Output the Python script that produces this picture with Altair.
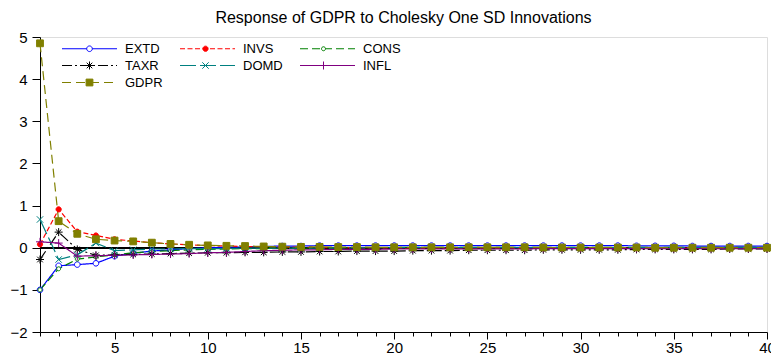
import altair as alt
import pandas as pd

periods = list(range(1, 41))
names = ["EXTD", "INVS", "CONS", "TAXR", "DOMD", "INFL", "GDPR"]

extd = [-1.00, -0.43, -0.40, -0.37, -0.20, -0.13, -0.08, -0.05, -0.02, 0.00,
        0.01, 0.02, 0.03, 0.04, 0.04, 0.05, 0.05, 0.05, 0.05, 0.05,
        0.05, 0.05, 0.05, 0.05, 0.05, 0.05, 0.05, 0.05, 0.05, 0.05,
        0.05, 0.05, 0.045, 0.045, 0.045, 0.04, 0.04, 0.04, 0.04, 0.04]
invs = [0.08, 0.91, 0.38, 0.29, 0.20, 0.16, 0.12, 0.09, 0.07, 0.05,
        0.04, 0.03, 0.02, 0.015, 0.01, 0.005, 0.0, 0.0, -0.005, -0.005,
        -0.01, -0.01, -0.01, -0.01, -0.01, -0.01, -0.01, -0.01, -0.01, -0.01,
        -0.01, -0.01, -0.01, -0.01, -0.01, -0.01, -0.01, -0.01, -0.01, -0.01]
cons = [-1.00, -0.50, -0.27, -0.22, -0.17, -0.12, -0.09, -0.07, -0.05, -0.04,
        -0.03, -0.02, -0.02, -0.01, -0.01, -0.005, 0.0, 0.0, 0.005, 0.005,
        0.01, 0.01, 0.01, 0.01, 0.01, 0.01, 0.01, 0.01, 0.01, 0.01,
        0.01, 0.01, 0.01, 0.01, 0.01, 0.01, 0.01, 0.01, 0.01, 0.01]
taxr = [-0.28, 0.37, -0.04, -0.18, -0.17, -0.16, -0.15, -0.14, -0.13, -0.12,
        -0.12, -0.11, -0.11, -0.10, -0.10, -0.09, -0.09, -0.08, -0.08, -0.08,
        -0.07, -0.07, -0.07, -0.06, -0.06, -0.06, -0.06, -0.05, -0.05, -0.05,
        -0.05, -0.05, -0.04, -0.04, -0.04, -0.04, -0.04, -0.03, -0.03, -0.03]
domd = [0.67, -0.28, -0.17, 0.11, -0.07, -0.05, -0.03, -0.03, -0.02, -0.02,
        -0.02, -0.01, -0.01, -0.01, -0.01, -0.01, -0.005, -0.005, 0.0, 0.0,
        0.0, 0.0, 0.0, 0.0, 0.0, 0.0, 0.0, 0.0, 0.0, 0.0,
        0.0, 0.0, 0.0, 0.0, 0.0, 0.0, 0.0, 0.0, 0.0, 0.0]
infl = [0.14, 0.11, -0.20, -0.19, -0.18, -0.17, -0.16, -0.15, -0.14, -0.12,
        -0.11, -0.09, -0.07, -0.06, -0.05, -0.05, -0.04, -0.04, -0.04, -0.03,
        -0.03, -0.03, -0.03, -0.03, -0.03, -0.03, -0.03, -0.02, -0.02, -0.02,
        -0.02, -0.02, -0.02, -0.02, -0.02, -0.02, -0.02, -0.02, -0.02, -0.02]
gdpr = [4.85, 0.63, 0.33, 0.20, 0.17, 0.15, 0.12, 0.09, 0.07, 0.055,
        0.045, 0.04, 0.03, 0.025, 0.02, 0.02, 0.015, 0.015, 0.01, 0.01,
        0.01, 0.01, 0.01, 0.01, 0.01, 0.01, 0.01, 0.005, 0.005, 0.005,
        0.005, 0.005, 0.005, 0.0, 0.0, 0.0, 0.0, 0.0, 0.0, 0.0]

series_values = [extd, invs, cons, taxr, domd, infl, gdpr]

colors = ["#0000ff", "#ff0000", "#008000", "#000000", "#008080", "#800080", "#808000"]
dashes = [[1, 0], [5, 2.5], [8, 4], [10, 3, 2, 3], [16, 4], [1, 0], [9, 5]]
fills = ["#ffffff", "#ff0000", "#ffffff", "transparent", "transparent", "transparent", "#808000"]
shapes = [
    "M-0.7,0A0.7,0.7 0 1,0 0.7,0A0.7,0.7 0 1,0 -0.7,0Z",
    "M-0.65,0A0.65,0.65 0 1,0 0.65,0A0.65,0.65 0 1,0 -0.65,0Z",
    "M-0.5,0A0.5,0.5 0 1,0 0.5,0A0.5,0.5 0 1,0 -0.5,0Z",
    "M-1,0L1,0M0,-1L0,1M-0.7,-0.7L0.7,0.7M-0.7,0.7L0.7,-0.7",
    "M-0.8,-0.8L0.8,0.8M-0.8,0.8L0.8,-0.8",
    "M-1,0L1,0M0,-1L0,1",
    "M-0.85,-0.85L0.85,-0.85L0.85,0.85L-0.85,0.85Z",
]

SUFFIX = "#"  # marker legend gets its own domain; its (hidden) labels drop the suffix
names2 = [n + SUFFIX for n in names]

rows = []
for name, vals in zip(names, series_values):
    for p, v in zip(periods, vals):
        rows.append({"period": p, "value": v, "series": name, "series2": name + SUFFIX})
df = pd.DataFrame(rows)

FONT = "Liberation Sans"

x_enc = alt.X(
    "period:Q",
    scale=alt.Scale(domain=[1, 40], nice=False, zero=False),
    axis=alt.Axis(
        values=periods,
        labelExpr="datum.value % 5 == 0 ? datum.label : ''",
        tickSize={"condition": {"test": "datum.value % 5 == 0", "value": 7}, "value": 4},
        grid=False, title=None, labelFontSize=15, labelFont=FONT, labelColor="black",
        domainColor="black", tickColor="black", labelPadding=1, labelFlush=False,
        labelOverlap=False, labelBound=False,
    ),
)
y_enc = alt.Y(
    "value:Q",
    scale=alt.Scale(domain=[-2, 5], nice=False, zero=False),
    axis=alt.Axis(
        values=[-2, -1, 0, 1, 2, 3, 4, 5], tickSize=8, grid=False, title=None,
        labelFontSize=15, labelFont=FONT, labelColor="black", domainColor="black",
        tickColor="black", labelPadding=5, labelOverlap=False,
    ),
)

common = dict(
    title=None, orient="none", legendX=21, legendY=5, columns=3, direction="horizontal",
    labelFontSize=13, labelFont=FONT, labelOffset=29, symbolOffset=22,
    columnPadding=14, rowPadding=3, padding=0,
)
leg1 = alt.Legend(
    symbolType="M-5,0L5,0", symbolSize=121, symbolStrokeWidth=1.2,
    labelColor="black", **common,
)
leg2 = alt.Legend(
    symbolSize=64, symbolStrokeWidth=1, symbolOpacity=1,
    labelOpacity=0, labelExpr="replace(datum.label, '#', '')", **common,
)

lines = alt.Chart(df).mark_line(strokeWidth=1.2).encode(
    x=x_enc, y=y_enc,
    color=alt.Color("series:N", sort=names, scale=alt.Scale(domain=names, range=colors), legend=leg1),
    strokeDash=alt.StrokeDash("series:N", sort=names, scale=alt.Scale(domain=names, range=dashes), legend=leg1),
)

points = alt.Chart(df).mark_point(opacity=1, strokeWidth=1, size=64).encode(
    x=x_enc, y=y_enc,
    shape=alt.Shape("series2:N", sort=names2, scale=alt.Scale(domain=names2, range=shapes), legend=leg2),
    stroke=alt.Stroke("series2:N", sort=names2, scale=alt.Scale(domain=names2, range=colors), legend=leg2),
    fill=alt.Fill("series2:N", sort=names2, scale=alt.Scale(domain=names2, range=fills), legend=leg2),
)

zero = alt.Chart(df).mark_rule(color="black", strokeWidth=1).encode(y=alt.datum(0))

chart = alt.layer(zero, lines, points).properties(
    width=727, height=295,
    title=alt.TitleParams(
        "Response of GDPR to Cholesky One SD Innovations",
        fontSize=16, font=FONT, fontWeight="normal", color="black",
        anchor="middle", offset=4,
    ),
    autosize=alt.AutoSizeParams(type="none"),
    padding={"left": 40, "top": 37, "right": 4, "bottom": 28},
).configure_view(stroke="black", strokeWidth=1).configure(background="white")

chart.save("out.html", embed_options={"renderer": "svg", "actions": False})
